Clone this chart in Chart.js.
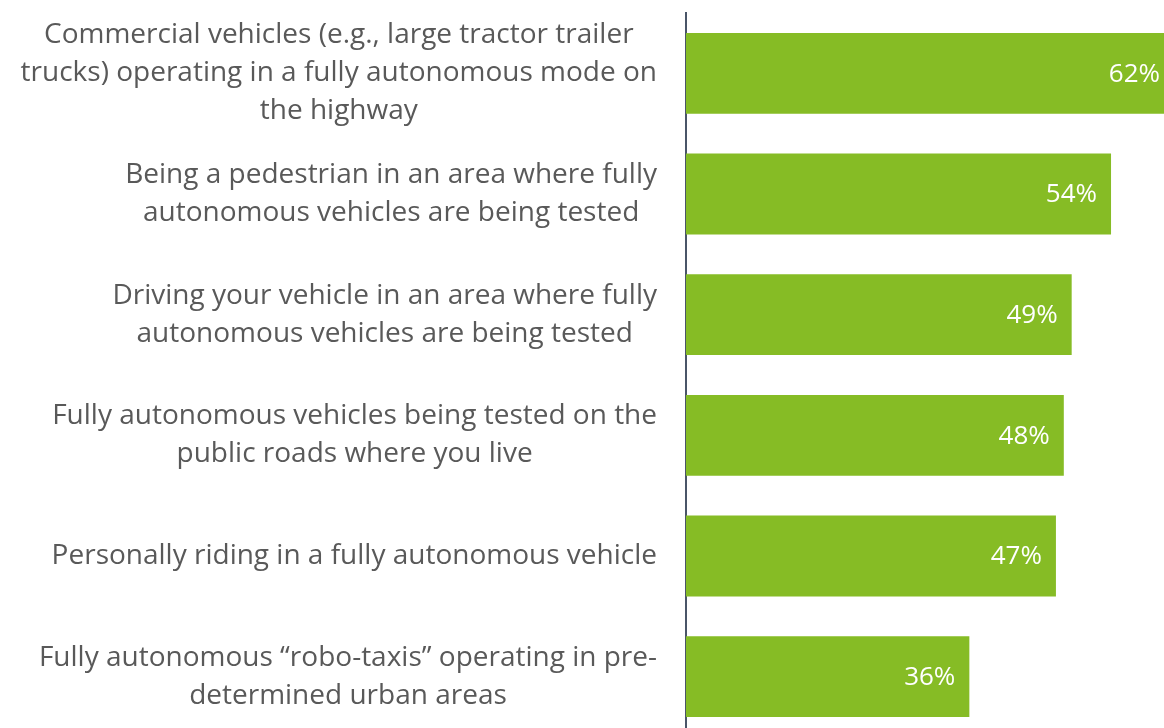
<!DOCTYPE html>
<html>
<head>
<meta charset="utf-8">
<script src="https://cdn.jsdelivr.net/npm/chart.js@4/dist/chart.umd.min.js"></script>
<style>
html, body { margin: 0; padding: 0; background: #fff; overflow: hidden; }
#wrap { position: relative; width: 1176px; height: 740px; }
</style>
</head>
<body>
<div id="wrap"><canvas id="barChart"></canvas></div>
<script>

// categories (multi-line labels as in the picture)
let categories = [
    ["Commercial vehicles (e.g., large tractor trailer", "trucks) operating in a fully autonomous mode on", "the highway"],
    ["Being a pedestrian in an area where fully", "autonomous vehicles are being tested"],
    ["Driving your vehicle in an area where fully", "autonomous vehicles are being tested"],
    ["Fully autonomous vehicles being tested on the", "public roads where you live"],
    ["Personally riding in a fully autonomous vehicle"],
    ["Fully autonomous \u201crobo-taxis\u201d operating in pre-", "determined urban areas"]
];

let values = [62, 54, 49, 48, 47, 36];

let green = "#86BC25";


// value labels inside the bar end
let valueLabels = {
    id: "valueLabels",
    afterDatasetsDraw(chart){
        let ctx = chart.ctx;
        let meta = chart.getDatasetMeta(0);
        ctx.save();
        ctx.fillStyle = "#ffffff";
        ctx.font = "26px 'Open Sans'";
        ctx.textAlign = "right";
        ctx.textBaseline = "middle";
        meta.data.forEach(function(bar, i){
            ctx.fillText(values[i] + "%", bar.x - 14, bar.y + 1);
        });
        ctx.restore();
    }
};

// category labels: each block centred, block right edge next to the axis
let categoryLabels = {
    id: "categoryLabels",
    afterDraw(chart){
        let ctx = chart.ctx;
        let yScale = chart.scales.y;
        let right = yScale.right - 29;
        let lineH = 38;
        ctx.save();
        ctx.fillStyle = "#595959";
        ctx.font = "28px 'Open Sans'";
        ctx.textAlign = "center";
        ctx.textBaseline = "middle";
        categories.forEach(function(lines, i){
            let y = yScale.getPixelForTick(i);
            let w = Math.max.apply(null, lines.map(l => ctx.measureText(l).width));
            let cx = right - w / 2;
            let top = y - (lines.length - 1) * lineH / 2;
            lines.forEach(function(line, j){
                ctx.fillText(line, cx, top + j * lineH);
            });
        });
        ctx.restore();
    }
};


new Chart(document.getElementById("barChart"), {
    type: "bar",
    data: {
        labels: categories,
        datasets: [{
            data: values,
            backgroundColor: green,
            barPercentage: 0.67,
            categoryPercentage: 1
        }]
    },
    options: {
        indexAxis: "y",
        responsive: true,
        maintainAspectRatio: false,
        animation: false,
        layout: {
            padding: { top: 13, bottom: 3, right: 2, left: 0 }
        },
        plugins: {
            legend: { display: false },
            tooltip: { enabled: false }
        },
        scales: {
            x: {
                display: false,
                min: 0,
                max: 62
            },
            y: {
                afterFit: function(scale){
                    scale.width = 686;
                    scale.paddingTop = 0;
                    scale.paddingBottom = 0;
                },
                grid: { display: false, drawTicks: false },
                border: { display: true, color: "#4a5568", width: 2 },
                ticks: { display: false }
            }
        }
    },
    plugins: [valueLabels, categoryLabels]
});

</script>
</body>
</html>
